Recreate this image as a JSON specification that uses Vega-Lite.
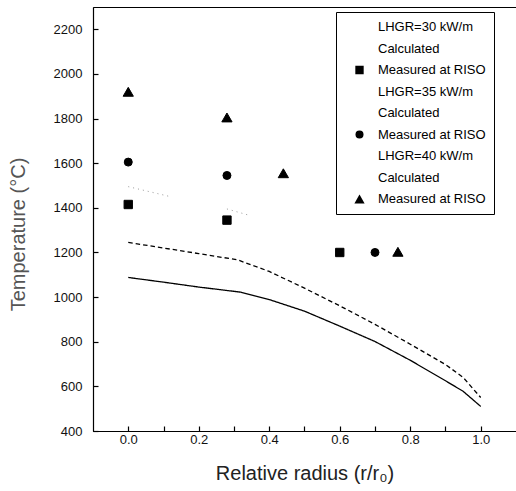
{
  "$schema": "https://vega.github.io/schema/vega-lite/v6.json",
  "width": 423,
  "height": 424,
  "autosize": {"type": "none"},
  "padding": {"left": 93, "top": 7, "right": 0, "bottom": 60},
  "background": "white",
  "config": {
    "font": "Liberation Sans",
    "view": {"stroke": "black", "strokeWidth": 1},
    "axis": {
      "domainColor": "black",
      "domainWidth": 1.2,
      "ticks": true,
      "tickColor": "black",
      "tickWidth": 1.2,
      "tickSize": -5,
      "grid": false,
      "labelColor": "#111",
      "labelFontSize": 13,
      "labelFont": "Liberation Sans",
      "titleFont": "Liberation Sans",
      "titleFontSize": 20,
      "titleFontWeight": "normal",
      "titleColor": "#222"
    },
    "legend": {
      "title": null,
      "orient": "none",
      "legendX": 243,
      "legendY": 5,
      "labelFontSize": 13,
      "labelFont": "Liberation Sans",
      "labelColor": "black",
      "labelLimit": 300,
      "symbolSize": 841,
      "clipHeight": 14,
      "rowPadding": 7.5,
      "labelOffset": 3,
      "padding": 8,
      "strokeColor": "black",
      "fillColor": "white",
      "symbolFillColor": "black",
      "symbolStrokeColor": "black",
      "symbolStrokeWidth": 1.3
    }
  },
  "datasets": {
    "lines": [
      {"r": 0.0, "T": 1088, "key": "c30"},
      {"r": 0.1, "T": 1067, "key": "c30"},
      {"r": 0.2, "T": 1045, "key": "c30"},
      {"r": 0.32, "T": 1022, "key": "c30"},
      {"r": 0.4, "T": 989, "key": "c30"},
      {"r": 0.5, "T": 937, "key": "c30"},
      {"r": 0.6, "T": 870, "key": "c30"},
      {"r": 0.7, "T": 801, "key": "c30"},
      {"r": 0.8, "T": 717, "key": "c30"},
      {"r": 0.9, "T": 625, "key": "c30"},
      {"r": 0.95, "T": 578, "key": "c30"},
      {"r": 1.0, "T": 510, "key": "c30"},
      {"r": 0.0, "T": 1245, "key": "c35"},
      {"r": 0.1, "T": 1220, "key": "c35"},
      {"r": 0.2, "T": 1195, "key": "c35"},
      {"r": 0.31, "T": 1167, "key": "c35"},
      {"r": 0.4, "T": 1115, "key": "c35"},
      {"r": 0.5, "T": 1040, "key": "c35"},
      {"r": 0.6, "T": 961, "key": "c35"},
      {"r": 0.7, "T": 878, "key": "c35"},
      {"r": 0.8, "T": 789, "key": "c35"},
      {"r": 0.9, "T": 698, "key": "c35"},
      {"r": 0.95, "T": 640, "key": "c35"},
      {"r": 1.0, "T": 550, "key": "c35"}
    ],
    "dotted": [
      {"r": 0.0, "T": 1495, "key": "c40", "seg": "a"},
      {"r": 0.12, "T": 1450, "key": "c40", "seg": "a"},
      {"r": 0.28, "T": 1395, "key": "c40", "seg": "b"},
      {"r": 0.34, "T": 1368, "key": "c40", "seg": "b"}
    ],
    "points": [
      {"r": 0.0, "T": 1415, "key": "m30"},
      {"r": 0.28, "T": 1345, "key": "m30"},
      {"r": 0.6, "T": 1200, "key": "m30"},
      {"r": 0.0, "T": 1605, "key": "m35"},
      {"r": 0.28, "T": 1545, "key": "m35"},
      {"r": 0.7, "T": 1200, "key": "m35"},
      {"r": 0.0, "T": 1920, "key": "m40"},
      {"r": 0.28, "T": 1805, "key": "m40"},
      {"r": 0.44, "T": 1555, "key": "m40"},
      {"r": 0.765, "T": 1203, "key": "m40"}
    ]
  },
  "layer": [
    {
      "data": {"name": "lines"},
      "mark": {"type": "line", "color": "black", "strokeWidth": 1.3},
      "encoding": {
        "x": {
          "field": "r", "type": "quantitative",
          "scale": {"domain": [-0.1, 1.1], "nice": false, "zero": false},
          "axis": {
            "title": "Relative radius (r/r₀)",
            "values": [0, 0.1, 0.2, 0.3, 0.4, 0.5, 0.6, 0.7, 0.8, 0.9, 1.0],
            "format": ".1f",
            "labelExpr": "round(datum.value*10)%2==0 ? datum.label : ''",
            "labelPadding": 7,
            "titleY": 42,
            "titleBaseline": "middle"
          }
        },
        "y": {
          "field": "T", "type": "quantitative",
          "scale": {"domain": [400, 2300], "nice": false, "zero": false},
          "axis": {
            "title": "Temperature (°C)",
            "values": [400, 500, 600, 700, 800, 900, 1000, 1100, 1200, 1300, 1400, 1500, 1600, 1700, 1800, 1900, 2000, 2100, 2200],
            "format": "d",
            "labelExpr": "datum.value%200==0 ? datum.label : ''",
            "labelPadding": 16,
            "titleX": -75,
            "titleY": 227,
            "titleAlign": "center",
            "titleBaseline": "middle",
            "titleColor": "#555"
          }
        },
        "strokeDash": {
          "field": "key", "type": "nominal",
          "scale": {
            "domain": ["h30", "c30", "m30", "h35", "c35", "m35", "h40", "c40", "m40"],
            "range": [[1, 0], [1, 0], [1, 0], [1, 0], [4.5, 3], [1, 0], [1, 0], [1, 4], [1, 0]]
          },
          "legend": {
            "values": ["h30", "c30", "m30", "h35", "c35", "m35", "h40", "c40", "m40"],
            "labelExpr": "substring(datum.value,0,1)=='h' ? 'LHGR=' + substring(datum.value,1) + ' kW/m' : (substring(datum.value,0,1)=='c' ? 'Calculated' : 'Measured at RISO')"
          }
        }
      }
    },
    {
      "data": {"name": "dotted"},
      "mark": {"type": "line", "color": "#9a9a9a", "strokeWidth": 1, "strokeDash": [1, 4]},
      "encoding": {
        "x": {"field": "r", "type": "quantitative", "scale": {"domain": [-0.1, 1.1], "nice": false, "zero": false}},
        "y": {"field": "T", "type": "quantitative", "scale": {"domain": [400, 2300], "nice": false, "zero": false}},
        "detail": {"field": "seg"}
      }
    },
    {
      "data": {"name": "points"},
      "mark": {"type": "point", "filled": false, "fill": "black", "stroke": "black", "strokeWidth": 1, "opacity": 1},
      "encoding": {
        "x": {"field": "r", "type": "quantitative", "scale": {"domain": [-0.1, 1.1], "nice": false, "zero": false}},
        "y": {"field": "T", "type": "quantitative", "scale": {"domain": [400, 2300], "nice": false, "zero": false}},
        "shape": {
          "field": "key", "type": "nominal",
          "scale": {
            "domain": ["h30", "c30", "m30", "h35", "c35", "m35", "h40", "c40", "m40"],
            "range": ["M0,0", "stroke", "square", "M0,0", "stroke", "circle", "M0,0", "M0,0", "triangle-up"]
          },
          "legend": {
            "values": ["h30", "c30", "m30", "h35", "c35", "m35", "h40", "c40", "m40"],
            "labelExpr": "substring(datum.value,0,1)=='h' ? 'LHGR=' + substring(datum.value,1) + ' kW/m' : (substring(datum.value,0,1)=='c' ? 'Calculated' : 'Measured at RISO')"
          }
        },
        "size": {
          "field": "key", "type": "nominal",
          "scale": {
            "type": "ordinal",
            "domain": ["h30", "c30", "m30", "h35", "c35", "m35", "h40", "c40", "m40"],
            "range": [0, 841, 70, 0, 841, 64, 0, 0, 105]
          },
          "legend": {
            "values": ["h30", "c30", "m30", "h35", "c35", "m35", "h40", "c40", "m40"],
            "labelExpr": "substring(datum.value,0,1)=='h' ? 'LHGR=' + substring(datum.value,1) + ' kW/m' : (substring(datum.value,0,1)=='c' ? 'Calculated' : 'Measured at RISO')"
          }
        }
      }
    }
  ]
}
